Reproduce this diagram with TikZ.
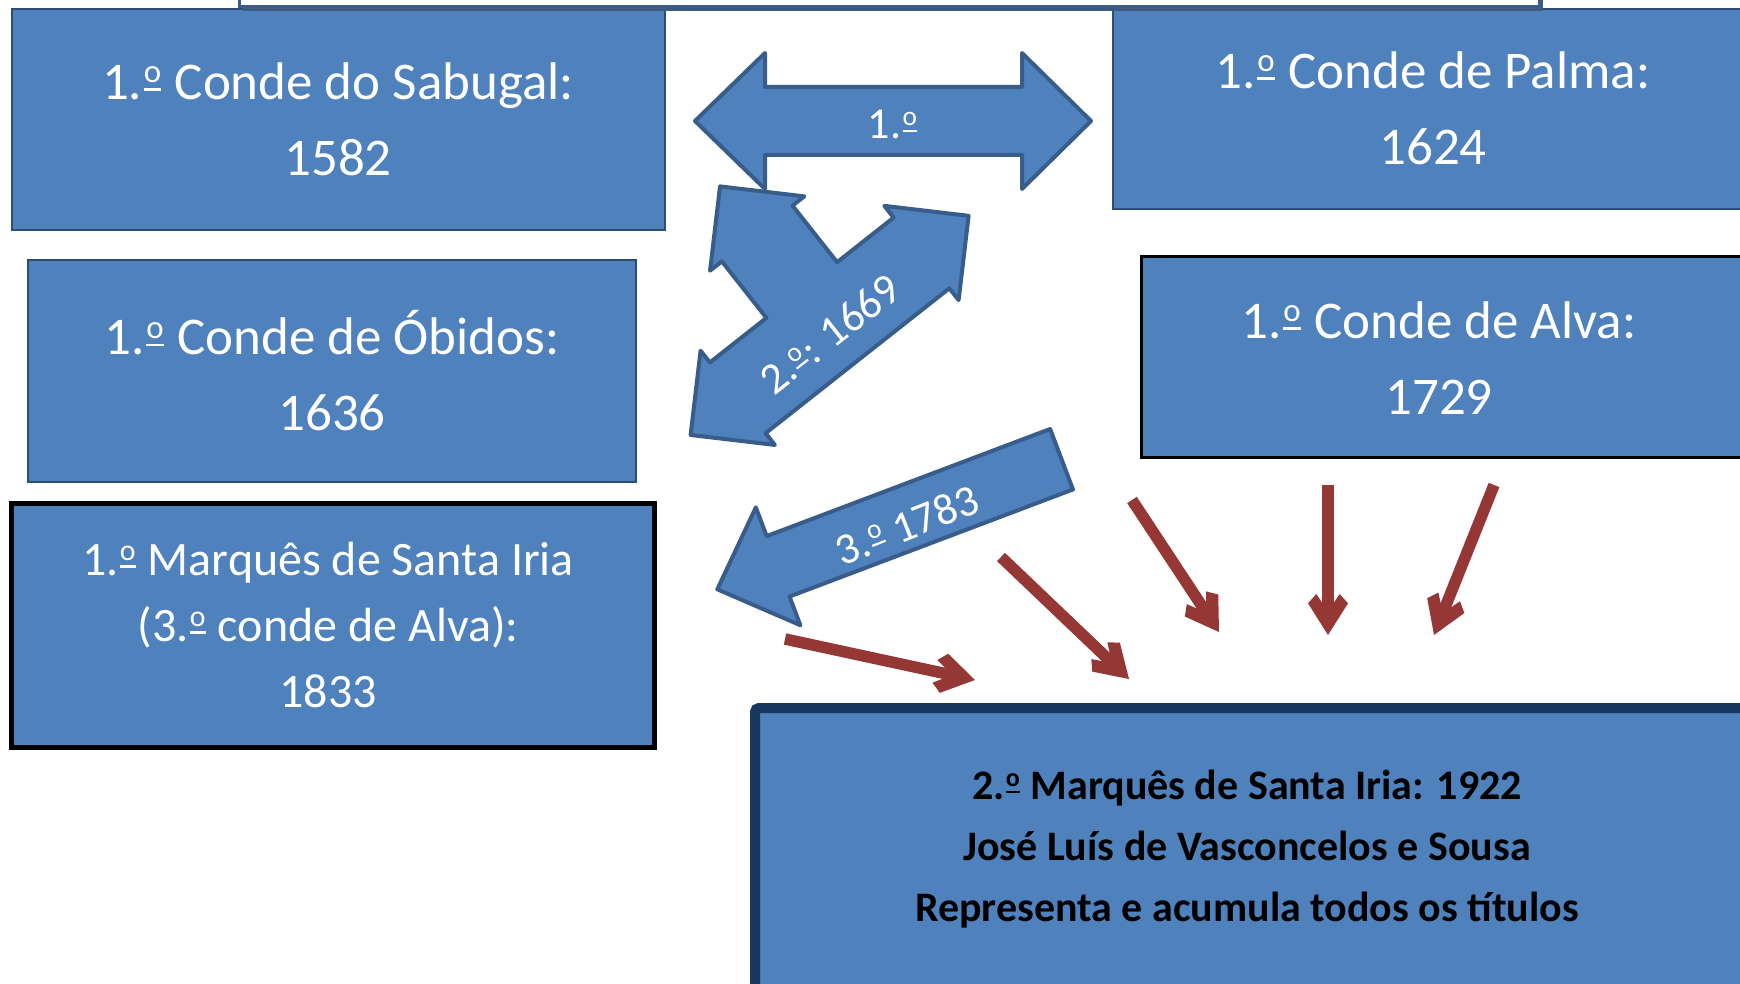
\documentclass[tikz,border=0pt]{standalone}
\usepackage{fontspec}
\setmainfont{Carlito}
\usetikzlibrary{decorations.markings}
\newcommand{\ordo}{\kern0.03em\rlap{\raisebox{0.16em}{\rule{0.33em}{0.05em}}}\raisebox{0.31em}{\scalebox{0.62}{o}}\kern0.03em}
\definecolor{boxblue}{HTML}{4F81BD}
\definecolor{shapeedge}{HTML}{385D8A}
\definecolor{boxedge}{HTML}{2C4D75}
\definecolor{navyedge}{HTML}{17375E}
\definecolor{arrowred}{HTML}{953735}
\definecolor{shadowblue}{HTML}{3E5A80}
\tikzset{
  bluebox/.style={fill=boxblue, draw=boxedge, line width=2pt},
  blackbox/.style={fill=boxblue, draw=black, line width=#1},
  navybox/.style={fill=boxblue, draw=navyedge, line width=10pt, rounded corners=4pt},
  bigtext/.style={text=white, font=\fontsize{53}{76}\selectfont, align=center, inner sep=0pt},
  midtext/.style={text=white, font=\fontsize{48}{66}\selectfont, align=center, inner sep=0pt},
  boldtext/.style={text=black, font=\fontsize{42}{61}\selectfont\bfseries, align=center, inner sep=0pt},
  arrowtext/.style={text=white, font=\fontsize{44}{50}\selectfont, inner sep=0pt},
  blockarrow/.style={fill=boxblue, draw=shapeedge, line width=4pt, line join=round},
  redarrow/.style={draw=arrowred, line width=11.5pt, shorten >=20pt,
    postaction={decorate},
    decoration={markings, mark=at position 1 with {
      \fill[arrowred, shorten >=0pt] (0,0) -- (-31.7,20) -- (-41,11.6) -- (-32.1,5.75)
        -- (-32.1,-5.75) -- (-41,-11.6) -- (-31.7,-20) -- cycle;}}},
}
\begin{document}
\begin{tikzpicture}[x=1pt, y=-1pt]
\path[use as bounding box, fill=white] (0,0) rectangle (1740,984);
\clip (0,0) rectangle (1740,984);

% boxes
\draw[bluebox] (12,9) rectangle (665,230);
\node[bigtext] (sabugal) at (338,119) {1.\ordo{} Conde do Sabugal:\\1582};

\draw[bluebox] (1113,9) rectangle (1760,209);
\node[bigtext] (palma) at (1433,108) {1.\ordo{} Conde de Palma:\\1624};

\draw[bluebox] (28,260) rectangle (636,482);
\node[bigtext] (obidos) at (332,371) {1.\ordo{} Conde de Óbidos:\\1636};

\draw[blackbox=3pt] (1141,257) rectangle (1760,457);
\node[bigtext] (alva) at (1439,358) {1.\ordo{} Conde de Alva:\\1729};

\draw[blackbox=5pt] (11,503) rectangle (654,747);
\node[midtext] (marques) at (328,625) {1.\ordo{} Marquês de Santa Iria\\(3.\ordo{} conde de Alva):\\1833};

\draw[navybox] (755,708) rectangle (1770,1010);
\node[boldtext] (final) at (1247,849) {2.\ordo{} Marquês de Santa Iria: 1922\\José Luís de Vasconcelos e Sousa\\Representa e acumula todos os títulos};

% double arrow 1.º
\draw[blockarrow] (695,121) -- (765,53) -- (765,87) -- (1022,87) -- (1022,53) -- (1091,121)
  -- (1022,189) -- (1022,155) -- (765,155) -- (765,189) -- cycle;
\node[arrowtext] (lab1) at (893,125) {1.\ordo};

% left-right-up arrow 2.º
\begin{scope}[shift={(829.6,325.4)}, x=1pt, y=1pt, rotate=38.25]
\draw[blockarrow] (-177,0) -- (-117,60) -- (-117,45) -- (-45,45) -- (-45,117) -- (-60,117)
  -- (0,177) -- (60,117) -- (45,117) -- (45,45) -- (117,45) -- (117,60) -- (177,0)
  -- (117,-60) -- (117,-45) -- (-117,-45) -- (-117,-60) -- cycle;
\end{scope}
\node[arrowtext, rotate=38.25] (lab2) at (830,334) {2.\ordo: 1669};

% arrow 3.º
\begin{scope}[shift={(717.3,589.3)}, x=1pt, y=1pt, rotate=20.7]
\draw[blockarrow] (0,0) -- (65,63) -- (65,32.3) -- (368,32.3) -- (368,-32.3) -- (65,-32.3)
  -- (65,-63) -- cycle;
\end{scope}
\node[arrowtext, rotate=21.5] (lab3) at (907,525) {3.\ordo{} 1783};

% red arrows
\coordinate (r1s) at (785,639);  \coordinate (r1e) at (975,680);
\coordinate (r2s) at (1001,557); \coordinate (r2e) at (1129,679);
\coordinate (r3s) at (1132,500); \coordinate (r3e) at (1219,632);
\coordinate (r4s) at (1328,485); \coordinate (r4e) at (1328,635);
\coordinate (r5s) at (1494,485); \coordinate (r5e) at (1434,635);
\draw[redarrow] (r1s) -- (r1e);
\draw[redarrow] (r2s) -- (r2e);
\draw[redarrow] (r3s) -- (r3e);
\draw[redarrow] (r4s) -- (r4e);
\draw[redarrow] (r5s) -- (r5e);

% title box (cut off at top)
\fill[shadowblue] (243,-30) rectangle (1543,11);
\draw[fill=white, draw=shapeedge, line width=3pt] (239,-30) rectangle (1539,7);
\end{tikzpicture}
\end{document}
